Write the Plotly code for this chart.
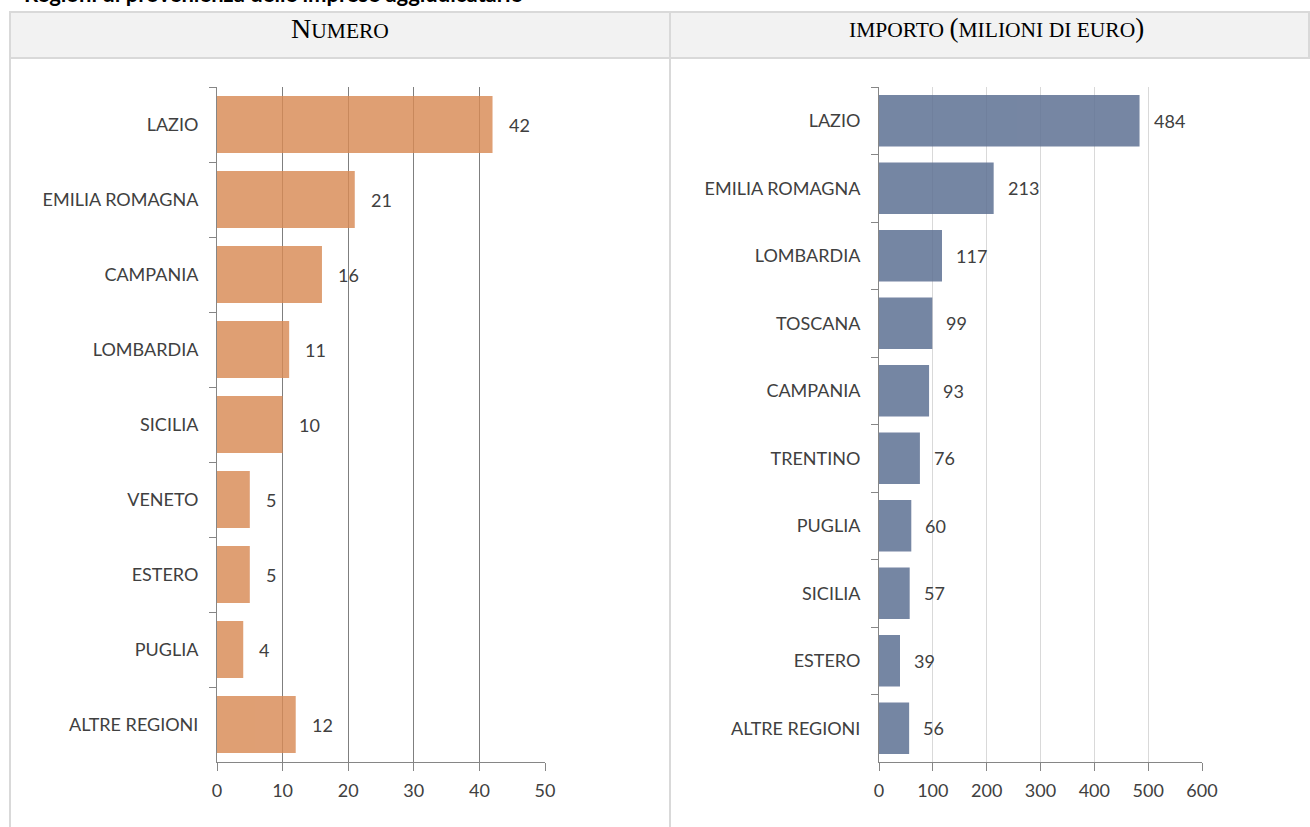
import plotly.graph_objects as go

W, H = 1310, 827

num_regions = ["LAZIO", "EMILIA ROMAGNA", "CAMPANIA", "LOMBARDIA", "SICILIA",
               "VENETO", "ESTERO", "PUGLIA", "ALTRE REGIONI"]
num_values = [42, 21, 16, 11, 10, 5, 5, 4, 12]

imp_regions = ["LAZIO", "EMILIA ROMAGNA", "LOMBARDIA", "TOSCANA", "CAMPANIA",
               "TRENTINO", "PUGLIA", "SICILIA", "ESTERO", "ALTRE REGIONI"]
imp_values = [484, 213, 117, 99, 93, 76, 60, 57, 39, 56]

num_ticks = [0, 10, 20, 30, 40, 50]
imp_ticks = [0, 100, 200, 300, 400, 500, 600]

title_text = "Regioni di provenienza delle imprese aggiudicatarie"

FONT = "Lato"
TXT = "#404040"
FS = 18

def px_x(v):
    return v / W

def px_y(v):
    return 1 - v / H

fig = go.Figure()

fig.add_trace(go.Bar(
    x=num_values, y=num_regions, orientation="h",
    marker=dict(color="#D88A55", line=dict(width=0)), opacity=0.82,
    xaxis="x", yaxis="y", hoverinfo="x+y",
))
fig.add_trace(go.Bar(
    x=imp_values, y=imp_regions, orientation="h",
    marker=dict(color="#5E7193", line=dict(width=0)), opacity=0.85,
    xaxis="x2", yaxis="y2", hoverinfo="x+y",
))

annotations = []
for r, v in zip(num_regions, num_values):
    annotations.append(dict(x=v, y=r, xref="x", yref="y", text=str(v), showarrow=False,
                            xanchor="left", xshift=14, font=dict(family=FONT, size=FS, color=TXT)))
for r, v in zip(imp_regions, imp_values):
    annotations.append(dict(x=v, y=r, xref="x2", yref="y2", text=str(v), showarrow=False,
                            xanchor="left", xshift=12, font=dict(family=FONT, size=FS, color=TXT)))

annotations.append(dict(x=px_x(22), y=px_y(9), xref="paper", yref="paper", text="<b>" + title_text + "</b>",
                        showarrow=False, xanchor="left", yanchor="bottom",
                        font=dict(family=FONT, size=22, color="#000000")))
annotations.append(dict(x=px_x(340), y=px_y(28), xref="paper", yref="paper",
                        text="N<span style='font-size:21.5px'>UMERO</span>",
                        showarrow=False, xanchor="center", yanchor="middle",
                        font=dict(family="Liberation Serif", size=28, color="#000000")))
annotations.append(dict(x=px_x(996), y=px_y(28), xref="paper", yref="paper",
                        text="<span style='font-size:21.5px'>IMPORTO </span>(<span style='font-size:21.5px'>MILIONI DI EURO</span>)",
                        showarrow=False, xanchor="center", yanchor="middle",
                        font=dict(family="Liberation Serif", size=27, color="#000000")))

BORDER = "#D9D9D9"
shapes = [
    dict(type="rect", xref="paper", yref="paper", x0=px_x(10), x1=px_x(1309), y0=px_y(12), y1=px_y(58),
         fillcolor="#F2F2F2", line=dict(color=BORDER, width=2), layer="below"),
    dict(type="line", xref="paper", yref="paper", x0=px_x(10), x1=px_x(10), y0=px_y(12), y1=px_y(827),
         line=dict(color=BORDER, width=2), layer="below"),
    dict(type="line", xref="paper", yref="paper", x0=px_x(670), x1=px_x(670), y0=px_y(12), y1=px_y(827),
         line=dict(color=BORDER, width=2), layer="below"),
]

tickfont = dict(family=FONT, size=FS, color=TXT)
AX = "#868686"

common_x = dict(showgrid=True, gridwidth=1, zeroline=False, showline=True, linecolor=AX, linewidth=1,
                ticks="outside", ticklen=8, tickcolor=AX, ticklabelstandoff=4, tickfont=tickfont,
                fixedrange=True, automargin=False)
common_y = dict(autorange="reversed", categoryorder="array", showline=True, linecolor=AX, linewidth=1,
                ticks="outside", ticklen=7, tickcolor=AX, tickson="boundaries", ticklabelstandoff=14,
                tickfont=tickfont, showgrid=False, fixedrange=True, automargin=False,
                domain=[px_y(762), px_y(87)])

fig.update_layout(
    width=W, height=H, margin=dict(l=0, r=0, t=0, b=0, autoexpand=False),
    paper_bgcolor="white", plot_bgcolor="white", showlegend=False,
    bargap=0.24,
    annotations=annotations, shapes=shapes,
    xaxis=dict(domain=[px_x(217), px_x(545)], range=[0, 50], tickvals=num_ticks,
               gridcolor="#7F7F7F", anchor="y", **common_x),
    yaxis=dict(categoryarray=num_regions, anchor="x", **common_y),
    xaxis2=dict(domain=[px_x(879), px_x(1202)], range=[0, 600], tickvals=imp_ticks,
                gridcolor="#D9D9D9", anchor="y2", **common_x),
    yaxis2=dict(categoryarray=imp_regions, anchor="x2", **common_y),
)

fig.write_html(
    "out.html",
    config={"displayModeBar": False, "responsive": False},
    post_script=(
        "document.documentElement.style.margin='0';"
        "document.documentElement.style.overflow='hidden';"
        "document.body.style.margin='0';"
        "document.body.style.overflow='hidden';"
    ),
)
